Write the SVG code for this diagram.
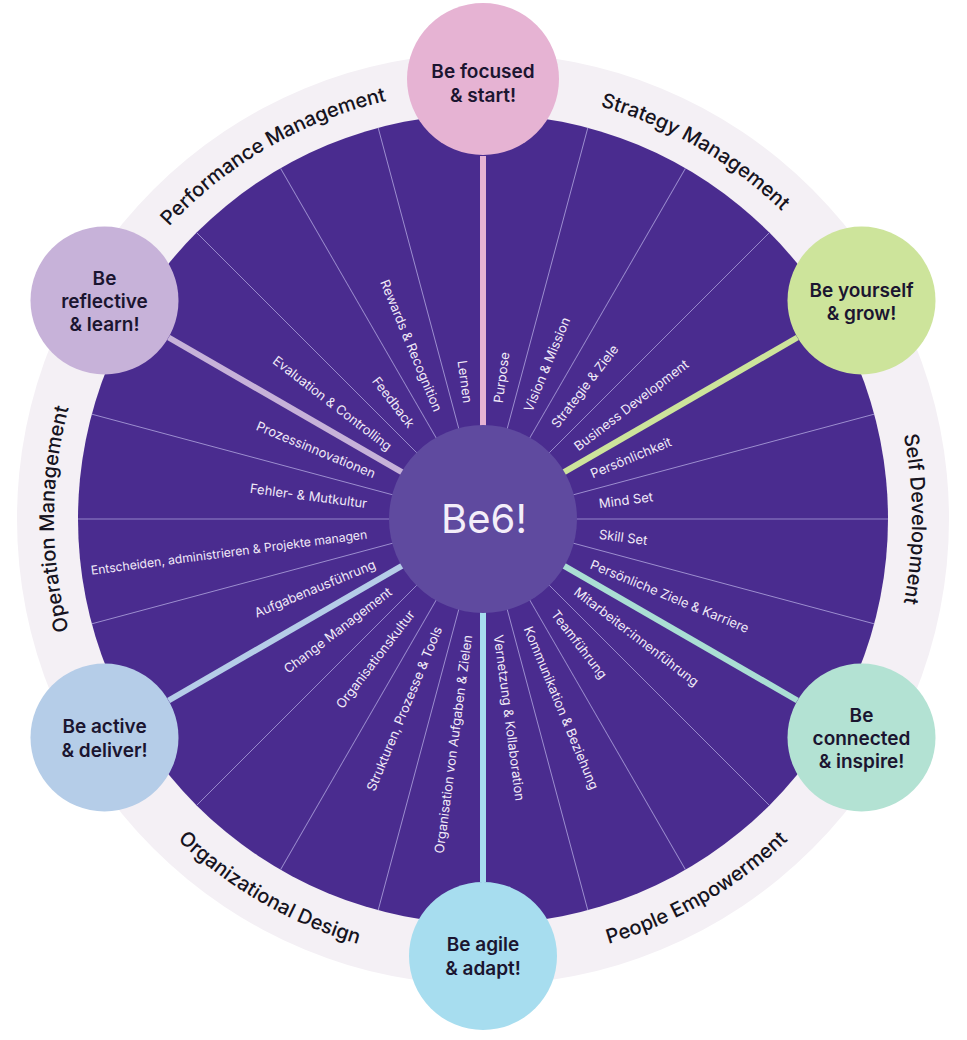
<svg xmlns="http://www.w3.org/2000/svg" width="967" height="1040" viewBox="0 0 967 1040">
<style>
  text { font-family: "Inter", "Liberation Sans", sans-serif; }
  .ring { fill: #f4f0f5; }
  .disk { fill: #4a2c8f; }
  .div { stroke: #9d8fd0; stroke-width: 0.9; }
  .spoke { stroke-width: 6; }
  .item { fill: #f1eaf8; font-size: 13px; }
  .itemR { text-anchor: start; }
  .itemL { text-anchor: end; }
  .sect { fill: #161320; font-size: 20px; font-weight: 500; }
  .node { stroke: none; }
  .nlabel { fill: #1b1530; font-size: 19px; font-weight: 600; text-anchor: middle; }
  .hub { fill: #5f4a9f; }
  .hubtext { fill: #f4eef9; font-size: 40px; text-anchor: middle; }
</style>
<defs>
  <path id="arcPerf" d="M60.5,444.5 A429,429 0 0 1 629.7,115.9"/>
  <path id="arcStrat" d="M336.3,115.9 A429,429 0 0 1 905.5,444.5"/>
  <path id="arcSelf" d="M758.8,190.4 A429,429 0 0 1 758.8,847.6"/>
  <path id="arcOper" d="M207.2,847.6 A429,429 0 0 1 207.2,190.4"/>
  <path id="arcOrg" d="M46.7,595.9 A443,443 0 0 0 634.5,935.3"/>
  <path id="arcPeople" d="M331.5,935.3 A443,443 0 0 0 919.3,595.9"/>
</defs>

<g id="background">
  <circle class="ring" cx="483" cy="519" r="466"/>
  <circle class="disk" cx="483" cy="519" r="405"/>
  <g id="dividers" class="div">
    <line x1="483" y1="519" x2="888" y2="519" transform="rotate(-75 483 519)"/>
    <line x1="483" y1="519" x2="888" y2="519" transform="rotate(-60 483 519)"/>
    <line x1="483" y1="519" x2="888" y2="519" transform="rotate(-45 483 519)"/>
    <line x1="483" y1="519" x2="888" y2="519" transform="rotate(-15 483 519)"/>
    <line x1="483" y1="519" x2="888" y2="519"/>
    <line x1="483" y1="519" x2="888" y2="519" transform="rotate(15 483 519)"/>
    <line x1="483" y1="519" x2="888" y2="519" transform="rotate(45 483 519)"/>
    <line x1="483" y1="519" x2="888" y2="519" transform="rotate(60 483 519)"/>
    <line x1="483" y1="519" x2="888" y2="519" transform="rotate(75 483 519)"/>
    <line x1="483" y1="519" x2="888" y2="519" transform="rotate(105 483 519)"/>
    <line x1="483" y1="519" x2="888" y2="519" transform="rotate(120 483 519)"/>
    <line x1="483" y1="519" x2="888" y2="519" transform="rotate(135 483 519)"/>
    <line x1="483" y1="519" x2="888" y2="519" transform="rotate(165 483 519)"/>
    <line x1="483" y1="519" x2="888" y2="519" transform="rotate(180 483 519)"/>
    <line x1="483" y1="519" x2="888" y2="519" transform="rotate(195 483 519)"/>
    <line x1="483" y1="519" x2="888" y2="519" transform="rotate(225 483 519)"/>
    <line x1="483" y1="519" x2="888" y2="519" transform="rotate(240 483 519)"/>
    <line x1="483" y1="519" x2="888" y2="519" transform="rotate(255 483 519)"/>
  </g>
</g>

<g id="connectors">
  <line class="spoke" stroke="#e6b3d3" x1="483" y1="519" x2="846" y2="519" transform="rotate(-90 483 519)"/>
  <line class="spoke" stroke="#cde49b" x1="483" y1="519" x2="846" y2="519" transform="rotate(-30 483 519)"/>
  <line class="spoke" stroke="#aadfd4" x1="483" y1="519" x2="846" y2="519" transform="rotate(30 483 519)"/>
  <line class="spoke" stroke="#a7ddef" x1="483" y1="519" x2="846" y2="519" transform="rotate(90 483 519)"/>
  <line class="spoke" stroke="#b5cde8" x1="483" y1="519" x2="846" y2="519" transform="rotate(150 483 519)"/>
  <line class="spoke" stroke="#c7b2d9" x1="483" y1="519" x2="846" y2="519" transform="rotate(210 483 519)"/>
</g>

<g id="items">
  <text class="item itemR" x="600" y="519" dy="0.35em" transform="rotate(-82.5 483 519)">Purpose</text>
  <text class="item itemR" x="600" y="519" dy="0.35em" transform="rotate(-67.5 483 519)">Vision &amp; Mission</text>
  <text class="item itemR" x="600" y="519" dy="0.35em" transform="rotate(-52.5 483 519)">Strategie &amp; Ziele</text>
  <text class="item itemR" x="600" y="519" dy="0.35em" transform="rotate(-37.5 483 519)">Business Development</text>
  <text class="item itemR" x="600" y="519" dy="0.35em" transform="rotate(-22.5 483 519)">Persönlichkeit</text>
  <text class="item itemR" x="600" y="519" dy="0.35em" transform="rotate(-7.5 483 519)">Mind Set</text>
  <text class="item itemR" x="600" y="519" dy="0.35em" transform="rotate(7.5 483 519)">Skill Set</text>
  <text class="item itemR" x="600" y="519" dy="0.35em" transform="rotate(22.5 483 519)">Persönliche Ziele &amp; Karriere</text>
  <text class="item itemR" x="600" y="519" dy="0.35em" transform="rotate(37.5 483 519)">Mitarbeiter:innenführung</text>
  <text class="item itemR" x="600" y="519" dy="0.35em" transform="rotate(52.5 483 519)">Teamführung</text>
  <text class="item itemR" x="600" y="519" dy="0.35em" transform="rotate(67.5 483 519)">Kommunikation &amp; Beziehung</text>
  <text class="item itemR" x="600" y="519" dy="0.35em" transform="rotate(82.5 483 519)">Vernetzung &amp; Kollaboration</text>
  <text class="item itemL" x="366" y="519" dy="0.35em" transform="rotate(-82.5 483 519)">Organisation von Aufgaben &amp; Zielen</text>
  <text class="item itemL" x="366" y="519" dy="0.35em" transform="rotate(-67.5 483 519)">Strukturen, Prozesse &amp; Tools</text>
  <text class="item itemL" x="366" y="519" dy="0.35em" transform="rotate(-52.5 483 519)">Organisationskultur</text>
  <text class="item itemL" x="366" y="519" dy="0.35em" transform="rotate(-37.5 483 519)">Change Management</text>
  <text class="item itemL" x="366" y="519" dy="0.35em" transform="rotate(-22.5 483 519)">Aufgabenausführung</text>
  <text class="item itemL" x="366" y="519" dy="0.35em" transform="rotate(-7.5 483 519)" style="font-size:12.2px">Entscheiden, administrieren &amp; Projekte managen</text>
  <text class="item itemL" x="366" y="519" dy="0.35em" transform="rotate(7.5 483 519)">Fehler- &amp; Mutkultur</text>
  <text class="item itemL" x="366" y="519" dy="0.35em" transform="rotate(22.5 483 519)">Prozessinnovationen</text>
  <text class="item itemL" x="366" y="519" dy="0.35em" transform="rotate(37.5 483 519)">Evaluation &amp; Controlling</text>
  <text class="item itemL" x="366" y="519" dy="0.35em" transform="rotate(52.5 483 519)">Feedback</text>
  <text class="item itemL" x="366" y="519" dy="0.35em" transform="rotate(67.5 483 519)">Rewards &amp; Recognition</text>
  <text class="item itemL" x="366" y="519" dy="0.35em" transform="rotate(82.5 483 519)">Lernen</text>
</g>

<g id="sections">
  <text class="sect"><textPath href="#arcPerf" startOffset="50%" text-anchor="middle">Performance Management</textPath></text>
  <text class="sect"><textPath href="#arcStrat" startOffset="50%" text-anchor="middle">Strategy Management</textPath></text>
  <text class="sect"><textPath href="#arcSelf" startOffset="50%" text-anchor="middle">Self  Development</textPath></text>
  <text class="sect"><textPath href="#arcOper" startOffset="50%" text-anchor="middle">Operation Management</textPath></text>
  <text class="sect"><textPath href="#arcOrg" startOffset="50%" text-anchor="middle">Organizational Design</textPath></text>
  <text class="sect"><textPath href="#arcPeople" startOffset="50%" text-anchor="middle">People Empowerment</textPath></text>
</g>

<g id="hub">
  <circle class="hub" cx="483" cy="519" r="94"/>
  <text class="hubtext" x="484" y="533">Be6!</text>
</g>

<g id="node-focused">
  <circle class="node" cx="483" cy="79" r="76" fill="#e6b3d3"/>
  <text class="nlabel" x="483" y="78">Be focused</text>
  <text class="nlabel" x="483" y="102">&amp; start!</text>
</g>
<g id="node-yourself">
  <circle class="node" cx="861.5" cy="300.5" r="74" fill="#cde49b"/>
  <text class="nlabel" x="861.5" y="297">Be yourself</text>
  <text class="nlabel" x="861.5" y="320">&amp; grow!</text>
</g>
<g id="node-connected">
  <circle class="node" cx="861.5" cy="737.5" r="74" fill="#b3e2d3"/>
  <text class="nlabel" x="861.5" y="722">Be</text>
  <text class="nlabel" x="861.5" y="745">connected</text>
  <text class="nlabel" x="861.5" y="768">&amp; inspire!</text>
</g>
<g id="node-agile">
  <circle class="node" cx="483" cy="956" r="74" fill="#a7ddef"/>
  <text class="nlabel" x="483" y="951">Be agile</text>
  <text class="nlabel" x="483" y="975">&amp; adapt!</text>
</g>
<g id="node-active">
  <circle class="node" cx="104.5" cy="737.5" r="74" fill="#b5cde8"/>
  <text class="nlabel" x="104.5" y="733">Be active</text>
  <text class="nlabel" x="104.5" y="757">&amp; deliver!</text>
</g>
<g id="node-reflective">
  <circle class="node" cx="104.5" cy="300.5" r="74" fill="#c7b2d9"/>
  <text class="nlabel" x="104.5" y="285">Be</text>
  <text class="nlabel" x="104.5" y="308">reflective</text>
  <text class="nlabel" x="104.5" y="331">&amp; learn!</text>
</g>
</svg>
